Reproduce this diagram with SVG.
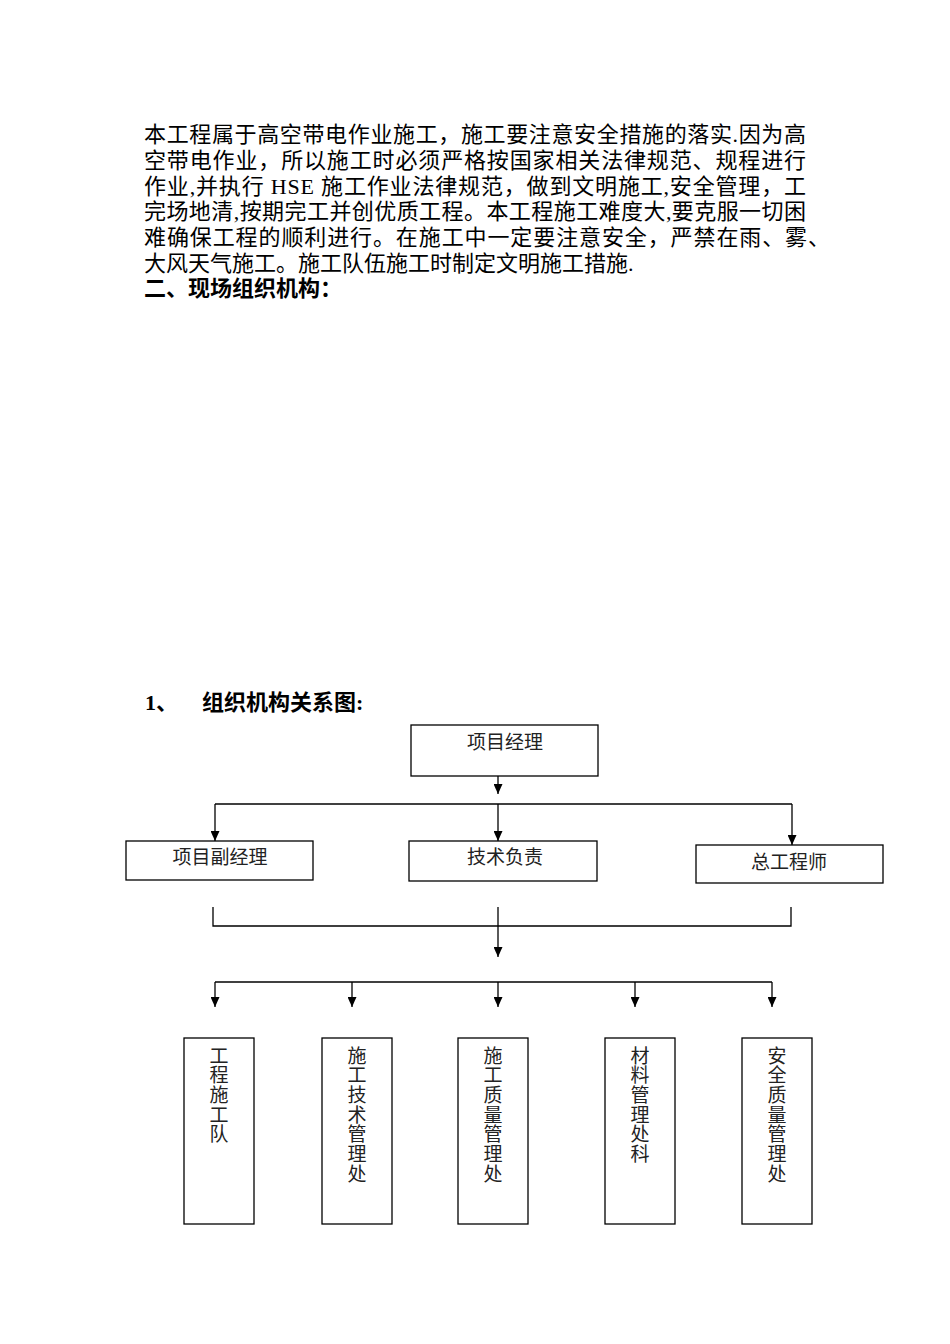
<svg xmlns="http://www.w3.org/2000/svg" width="950" height="1344" viewBox="0 0 950 1344">
<defs>
<marker id="ah" viewBox="0 0 10 9" markerWidth="10" markerHeight="9" refX="10" refY="4.5" orient="auto" markerUnits="userSpaceOnUse">
<path d="M0,0 L10,4.5 L0,9 z" fill="#000"/>
</marker>
<style>
.p{font-family:"Liberation Serif","Noto Sans CJK SC",serif;font-size:22px;fill:#000}
.h{font-family:"Liberation Serif","Noto Sans CJK SC",serif;font-size:22px;font-weight:bold;fill:#000}
.box{fill:#fff;stroke:#000;stroke-width:1.3}
.lbl{font-family:"Noto Sans CJK SC",sans-serif;font-size:19px;fill:#222;text-anchor:middle}
.v{font-family:"Noto Sans CJK SC",sans-serif;font-size:19px;fill:#222;text-anchor:middle}
.c{fill:none;stroke:#000;stroke-width:1.3}
.a{fill:none;stroke:#000;stroke-width:1.3;marker-end:url(#ah)}
</style>
</defs>
<rect width="950" height="1344" fill="#fff"/>
<g id="body-text">
<text class="p" x="144" y="142" textLength="662" lengthAdjust="spacing">本工程属于高空带电作业施工，施工要注意安全措施的落实.因为高</text>
<text class="p" x="144" y="167.8" textLength="662" lengthAdjust="spacing">空带电作业，所以施工时必须严格按国家相关法律规范、规程进行</text>
<text class="p" x="144" y="193.6" textLength="662" lengthAdjust="spacing">作业,并执行 HSE 施工作业法律规范，做到文明施工,安全管理，工</text>
<text class="p" x="144" y="219.4" textLength="662" lengthAdjust="spacing">完场地清,按期完工并创优质工程。本工程施工难度大,要克服一切困</text>
<text class="p" x="144" y="245.2" textLength="686" lengthAdjust="spacing">难确保工程的顺利进行。在施工中一定要注意安全，严禁在雨、雾、</text>
<text class="p" x="144" y="271">大风天气施工。施工队伍施工时制定文明施工措施.</text>
<text class="h" x="144" y="296">二、现场组织机构：</text>
<text class="h" x="145" y="710">1、<tspan x="202">组织机构关系图:</tspan></text>
</g>
<g id="connectors">
<line class="a" x1="498" y1="759" x2="498" y2="794"/>
<line class="c" x1="215" y1="804" x2="792" y2="804"/>
<line class="a" x1="215" y1="804" x2="215" y2="841"/>
<line class="a" x1="498" y1="804" x2="498" y2="841"/>
<line class="a" x1="792" y1="804" x2="792" y2="845"/>
<polyline class="c" points="213,907 213,926 791,926 791,907"/>
<line class="a" x1="498" y1="907" x2="498" y2="957"/>
<line class="c" x1="215" y1="982" x2="772" y2="982"/>
<line class="a" x1="215" y1="982" x2="215" y2="1007"/>
<line class="a" x1="352" y1="982" x2="352" y2="1007"/>
<line class="a" x1="498" y1="982" x2="498" y2="1007"/>
<line class="a" x1="635" y1="982" x2="635" y2="1007"/>
<line class="a" x1="772" y1="982" x2="772" y2="1007"/>
</g>
<g id="n-xmjl">
<rect class="box" x="411" y="725" width="187" height="51"/>
<text class="lbl" x="505" y="749">项目经理</text>
</g>
<g id="n-xmfjl">
<rect class="box" x="126" y="841" width="187" height="39"/>
<text class="lbl" x="220" y="864">项目副经理</text>
</g>
<g id="n-jsfz">
<rect class="box" x="409" y="841" width="188" height="40"/>
<text class="lbl" x="505" y="864">技术负责</text>
</g>
<g id="n-zgcs">
<rect class="box" x="696" y="845" width="187" height="38"/>
<text class="lbl" x="789" y="869">总工程师</text>
</g>
<g id="n-gcsgd">
<rect class="box" x="184" y="1038" width="70" height="186"/>
<text class="v" x="219" y="1062.5"><tspan x="219">工</tspan><tspan x="219" dy="19.7">程</tspan><tspan x="219" dy="19.7">施</tspan><tspan x="219" dy="19.7">工</tspan><tspan x="219" dy="19.7">队</tspan></text>
</g>
<g id="n-sgjsglc">
<rect class="box" x="322" y="1038" width="70" height="186"/>
<text class="v" x="357" y="1062.5"><tspan x="357">施</tspan><tspan x="357" dy="19.7">工</tspan><tspan x="357" dy="19.7">技</tspan><tspan x="357" dy="19.7">术</tspan><tspan x="357" dy="19.7">管</tspan><tspan x="357" dy="19.7">理</tspan><tspan x="357" dy="19.7">处</tspan></text>
</g>
<g id="n-sgzlglc">
<rect class="box" x="458" y="1038" width="70" height="186"/>
<text class="v" x="493" y="1062.5"><tspan x="493">施</tspan><tspan x="493" dy="19.7">工</tspan><tspan x="493" dy="19.7">质</tspan><tspan x="493" dy="19.7">量</tspan><tspan x="493" dy="19.7">管</tspan><tspan x="493" dy="19.7">理</tspan><tspan x="493" dy="19.7">处</tspan></text>
</g>
<g id="n-clglck">
<rect class="box" x="605" y="1038" width="70" height="186"/>
<text class="v" x="640" y="1062.5"><tspan x="640">材</tspan><tspan x="640" dy="19.7">料</tspan><tspan x="640" dy="19.7">管</tspan><tspan x="640" dy="19.7">理</tspan><tspan x="640" dy="19.7">处</tspan><tspan x="640" dy="19.7">科</tspan></text>
</g>
<g id="n-aqzlglc">
<rect class="box" x="742" y="1038" width="70" height="186"/>
<text class="v" x="777" y="1062.5"><tspan x="777">安</tspan><tspan x="777" dy="19.7">全</tspan><tspan x="777" dy="19.7">质</tspan><tspan x="777" dy="19.7">量</tspan><tspan x="777" dy="19.7">管</tspan><tspan x="777" dy="19.7">理</tspan><tspan x="777" dy="19.7">处</tspan></text>
</g>
</svg>
